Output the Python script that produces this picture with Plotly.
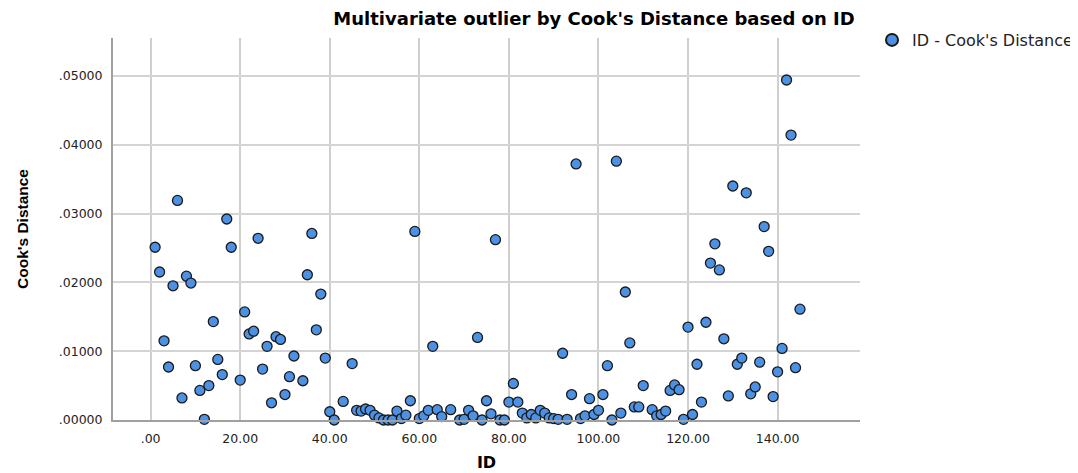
import plotly.graph_objects as go

# Case IDs and Cook's distance values
ids = [1, 2, 3, 4, 5, 6, 7, 8, 9, 10, 11, 12, 13, 14, 15, 16, 17, 18, 20,
       21, 22, 23, 24, 25, 26, 27, 28, 29, 30, 31, 32, 34, 35, 36, 37, 38, 39, 40,
       41, 43, 45, 46, 47, 48, 49, 50, 51, 52, 53, 54, 55, 56, 57, 58, 59, 60,
       61, 62, 63, 64, 65, 67, 69, 70, 71, 72, 73, 74, 75, 76, 77, 78, 79, 80,
       81, 82, 83, 84, 85, 86, 87, 88, 89, 90, 91, 92, 93, 94, 95, 96, 97, 98, 99, 100,
       101, 102, 103, 104, 105, 106, 107, 108, 109, 110, 112, 113, 114, 115, 116, 117, 118, 119, 120,
       121, 122, 123, 124, 125, 126, 127, 128, 129, 130, 131, 132, 133, 134, 135, 136, 137, 138, 139, 140,
       141, 142, 143, 144, 145]

cooks_d = [0.0251, 0.0215, 0.0115, 0.0077, 0.0195, 0.0319, 0.0032, 0.0209, 0.0199, 0.0079,
           0.0043, 0.0001, 0.0050, 0.0143, 0.0088, 0.0066, 0.0292, 0.0251, 0.0058,
           0.0157, 0.0125, 0.0129, 0.0264, 0.0074, 0.0107, 0.0025, 0.0121, 0.0117, 0.0037,
           0.0063, 0.0093, 0.0057, 0.0211, 0.0271, 0.0131, 0.0183, 0.0090, 0.0012,
           0.0000, 0.0027, 0.0082, 0.0014, 0.0013, 0.0016, 0.0014, 0.0007, 0.0003, 0.0000,
           0.0000, 0.0000, 0.0013, 0.0002, 0.0007, 0.0028, 0.0274, 0.0002,
           0.0006, 0.0014, 0.0107, 0.0015, 0.0005, 0.0015, 0.0000, 0.0001, 0.0014, 0.0006,
           0.0120, 0.0000, 0.0028, 0.0009, 0.0262, 0.0000, 0.0000, 0.0026,
           0.0053, 0.0026, 0.0010, 0.0003, 0.0008, 0.0003, 0.0014, 0.0010, 0.0003, 0.0002,
           0.0001, 0.0097, 0.0001, 0.0037, 0.0372, 0.0002, 0.0006, 0.0031, 0.0008, 0.0014,
           0.0037, 0.0079, 0.0000, 0.0376, 0.0010, 0.0186, 0.0112, 0.0019, 0.0019, 0.0050,
           0.0015, 0.0006, 0.0008, 0.0013, 0.0043, 0.0051, 0.0044, 0.0001, 0.0135,
           0.0008, 0.0081, 0.0026, 0.0142, 0.0228, 0.0256, 0.0218, 0.0118, 0.0035, 0.0340,
           0.0081, 0.0090, 0.0330, 0.0038, 0.0048, 0.0084, 0.0281, 0.0245, 0.0034, 0.0070,
           0.0104, 0.0494, 0.0414, 0.0076, 0.0161]

x_tickvals = [0, 20, 40, 60, 80, 100, 120, 140]
x_ticktext = [".00", "20.00", "40.00", "60.00", "80.00", "100.00", "120.00", "140.00"]
y_tickvals = [0.0, 0.01, 0.02, 0.03, 0.04, 0.05]
y_ticktext = [".00000", ".01000", ".02000", ".03000", ".04000", ".05000"]

fig = go.Figure()
fig.add_trace(go.Scatter(
    x=ids, y=cooks_d, mode="markers", name="ID - Cook's Distance",
    cliponaxis=False,
    marker=dict(size=10, color="#4C91E4", line=dict(color="#1a1a1a", width=1.3)),
))

tick_font = dict(family="DejaVu Sans", size=12.5, color="#222222")

fig.update_layout(
    width=1078, height=473,
    margin=dict(l=105, r=193, t=30, b=47),
    paper_bgcolor="white", plot_bgcolor="white",
    title=dict(
        text="<b>Multivariate outlier by Cook's Distance based on ID</b>",
        font=dict(family="DejaVu Sans", size=18, color="black"),
        x=586 / 1078, xref="container", xanchor="center",
        y=1 - 11 / 473, yref="container", yanchor="middle",
    ),
    showlegend=True,
    legend=dict(
        x=864 / 1078, xref="container", xanchor="left",
        y=1 - 15 / 473, yref="container", yanchor="top",
        font=dict(family="DejaVu Sans", size=16, color="#222222"),
        itemsizing="constant", bgcolor="rgba(0,0,0,0)",
    ),
    xaxis=dict(
        range=[-8.4, 158.4], tickvals=x_tickvals, ticktext=x_ticktext,
        showgrid=True, gridcolor="#cfcfcf", gridwidth=2, zeroline=False,
        showline=True, linecolor="#a0a0a0", linewidth=2,
        tickfont=tick_font, ticklabelstandoff=6,
        title=dict(text="<b>ID</b>", font=dict(family="DejaVu Sans", size=16, color="black"), standoff=12),
    ),
    yaxis=dict(
        range=[0, 0.0555], tickvals=y_tickvals, ticktext=y_ticktext,
        showgrid=True, gridcolor="#d4d4d4", gridwidth=1.5, zeroline=False,
        showline=True, linecolor="#a0a0a0", linewidth=2,
        tickfont=tick_font, ticklabelstandoff=6,
        title=dict(text="<b>Cook's Distance</b>",
                   font=dict(family="Arial", size=15.5, color="black"),
                   standoff=26),
    ),
)

fig.write_html("out.html")
